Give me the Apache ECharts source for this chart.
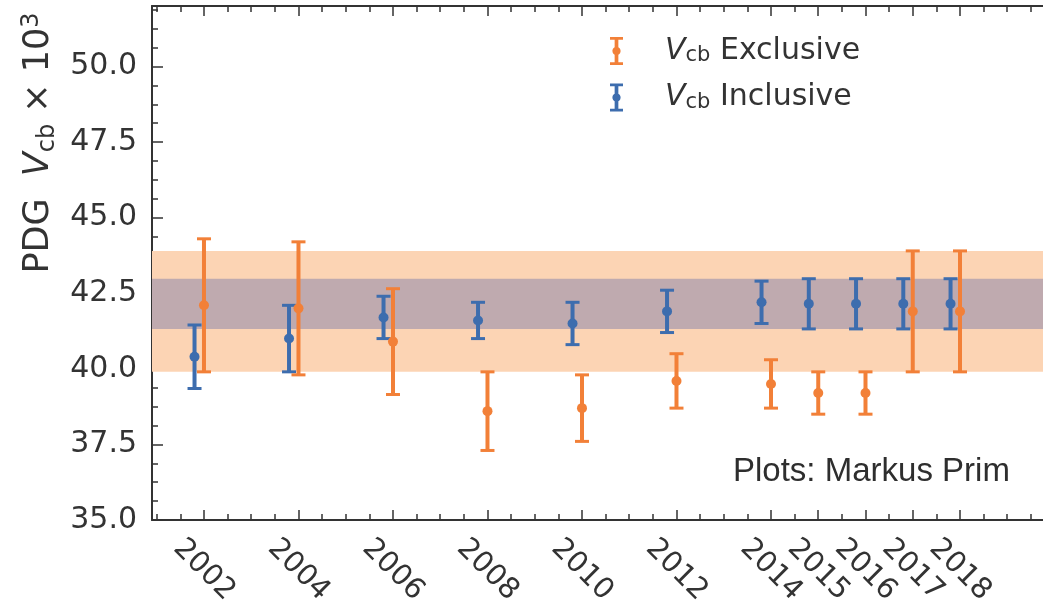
<!DOCTYPE html>
<html>
<head>
<meta charset="utf-8">
<script src="https://cdn.jsdelivr.net/npm/echarts@6/dist/echarts.min.js"></script>
<style>
  html, body { margin: 0; padding: 0; background: #fff; }
  #chart { width: 1043px; height: 607px; }
</style>
</head>
<body>
<div id="chart"></div>
<script>
// PDG averages of |Vcb| (x 10^3) by edition
const years    = ['2002', '2004', '2006', '2008', '2010', '2012', '2014', '2015', '2016', '2017', '2018'];
const yearPos  = [0, 1, 2, 3, 4, 5, 6, 6.5, 7, 7.5, 8];
const exclVal  = [42.1, 42.0, 40.9, 38.6, 38.7, 39.6, 39.5, 39.2, 39.2, 41.9, 41.9];
const exclErr  = [2.2, 2.2, 1.75, 1.3, 1.1, 0.9, 0.8, 0.7, 0.7, 2.0, 2.0];
const inclVal  = [40.4, 41.0, 41.7, 41.6, 41.5, 41.9, 42.2, 42.15, 42.15, 42.15, 42.15];
const inclErr  = [1.05, 1.1, 0.7, 0.6, 0.7, 0.7, 0.7, 0.83, 0.83, 0.83, 0.83];
const yTicks   = [35, 37.5, 40, 42.5, 45, 47.5, 50];
// current averages shown as horizontal bands
const exclBand = [41.9, 2.0];
const inclBand = [42.15, 0.83];

const INCL_SHIFT = -0.1;       // inclusive points sit just left of the year tick
const ORANGE = '#f28038';
const BLUE = '#3d6dae';
const TXT = '#333333';
const FONT = '"DejaVu Sans", sans-serif';

const X_MIN = -0.55, X_MAX = 9;
const Y_MIN = 35, Y_MAX = 52;

// minor tick positions
const xMinor = [];
for (let v = -0.5; v <= X_MAX + 1e-9; v += 0.25) xMinor.push(+v.toFixed(2));
const yMinor = [];
for (let v = Y_MIN; v <= Y_MAX + 1e-9; v += 0.625) yMinor.push(+v.toFixed(3));

function errorBar(color) {
  return function (params, api) {
    const x = api.value(0), y = api.value(1), e = api.value(2);
    const c = api.coord([x, y]);
    const hi = api.coord([x, y + e]);
    const lo = api.coord([x, y - e]);
    const cap = 7;
    return {
      type: 'group',
      children: [
        { type: 'line', shape: { x1: c[0], y1: hi[1], x2: c[0], y2: lo[1] }, style: { stroke: color, lineWidth: 4 } },
        { type: 'line', shape: { x1: c[0] - cap, y1: hi[1], x2: c[0] + cap, y2: hi[1] }, style: { stroke: color, lineWidth: 3 } },
        { type: 'line', shape: { x1: c[0] - cap, y1: lo[1], x2: c[0] + cap, y2: lo[1] }, style: { stroke: color, lineWidth: 3 } },
        { type: 'circle', shape: { cx: c[0], cy: c[1], r: 5 }, style: { fill: color } }
      ]
    };
  };
}

// error-bar glyph for the legend
const barIcon = 'path://M0,0H14V3H9V11A4.5,4.5 0 0 1 9,19V27H14V30H0V27H5V19A4.5,4.5 0 0 1 5,11V3H0Z';

const tickLine = { color: TXT, width: 1.5 };
const hidden = { show: false };

function xAxisBase(pos) {
  return {
    type: 'value', gridIndex: 0, position: pos, min: X_MIN, max: X_MAX,
    splitLine: hidden, axisLabel: hidden, axisTick: hidden,
    axisLine: { show: false, onZero: false }
  };
}

const chart = echarts.init(document.getElementById('chart'), null, { renderer: 'canvas' });

chart.setOption({
  backgroundColor: '#ffffff',
  animation: false,
  grid: {
    left: 152, right: -11.5, top: 6, bottom: 87,
    containLabel: false, outerBoundsMode: 'none'
  },
  xAxis: [
    Object.assign(xAxisBase('bottom'), {
      axisLine: { show: true, onZero: false, lineStyle: { color: TXT, width: 2 } },
      axisTick: { show: true, inside: true, length: 10, customValues: yearPos, lineStyle: tickLine },
      axisLabel: {
        show: true, customValues: yearPos,
        formatter: v => years[yearPos.indexOf(v)],
        rotate: -45, align: 'center', verticalAlign: 'middle', margin: 50,
        color: TXT, fontSize: 29, fontFamily: FONT
      }
    }),
    Object.assign(xAxisBase('bottom'), {
      axisTick: { show: true, inside: true, length: 6, customValues: xMinor, lineStyle: tickLine }
    }),
    Object.assign(xAxisBase('top'), {
      axisLine: { show: true, onZero: false, lineStyle: { color: TXT, width: 2 } },
      axisTick: { show: true, inside: true, length: 10, customValues: yearPos, lineStyle: tickLine }
    }),
    Object.assign(xAxisBase('top'), {
      axisTick: { show: true, inside: true, length: 6, customValues: xMinor, lineStyle: tickLine }
    })
  ],
  yAxis: [
    {
      type: 'value', min: Y_MIN, max: Y_MAX, position: 'left',
      splitLine: hidden,
      axisLine: { show: true, onZero: false, lineStyle: { color: TXT, width: 2 } },
      axisTick: { show: true, inside: true, length: 11, customValues: yTicks, lineStyle: tickLine },
      axisLabel: {
        show: true, customValues: yTicks, margin: 15,
        formatter: v => v.toFixed(1),
        color: TXT, fontSize: 30, fontFamily: FONT
      },
      name: '{n|PDG  }{v|V}{s|cb}{n| × 10}{p|3}',
      nameLocation: 'middle', nameRotate: 90, nameGap: 90,
      nameTextStyle: {
        padding: [0, 0, 0, 240],
        rich: {
          n: { fontSize: 35, fontFamily: FONT, color: TXT, lineHeight: 40 },
          v: { fontSize: 35, fontFamily: FONT, fontStyle: 'italic', color: TXT, lineHeight: 40 },
          s: { fontSize: 24, fontFamily: FONT, color: TXT, verticalAlign: 'bottom', lineHeight: 29 },
          p: { fontSize: 24, fontFamily: FONT, color: TXT, verticalAlign: 'top', lineHeight: 25 }
        }
      }
    },
    {
      type: 'value', min: Y_MIN, max: Y_MAX, position: 'left',
      splitLine: hidden, axisLabel: hidden,
      axisLine: { show: false, onZero: false },
      axisTick: { show: true, inside: true, length: 6, customValues: yMinor, lineStyle: tickLine }
    }
  ],
  legend: {
    orient: 'vertical', left: 605, top: 31,
    itemWidth: 13, itemHeight: 31, itemGap: 16,
    data: [
      { name: 'Vcb Exclusive', icon: barIcon },
      { name: 'Vcb Inclusive', icon: barIcon }
    ],
    formatter: name => '{v|V}{s|cb}{t| ' + name.slice(4) + '}',
    textStyle: {
      padding: [0, 0, 0, 37],
      rich: {
        v: { fontSize: 30, fontFamily: FONT, fontStyle: 'italic', color: TXT, lineHeight: 31 },
        s: { fontSize: 21, fontFamily: FONT, color: TXT, verticalAlign: 'bottom', lineHeight: 24 },
        t: { fontSize: 30, fontFamily: FONT, color: TXT, lineHeight: 31 }
      }
    }
  },
  graphic: [
    {
      type: 'text', left: 733, top: 455, z: 10,
      style: { text: 'Plots: Markus Prim', fill: '#2e2e2e', font: '33px "Liberation Sans", Arial, sans-serif' }
    }
  ],
  series: [
    {
      name: 'exclusive band', type: 'line', data: [], z: 1, silent: true,
      markArea: {
        silent: true,
        itemStyle: { color: '#fcd4b4' },
        data: [[{ yAxis: exclBand[0] - exclBand[1] }, { yAxis: exclBand[0] + exclBand[1] }]]
      }
    },
    {
      name: 'inclusive band', type: 'line', data: [], z: 2, silent: true,
      markArea: {
        silent: true,
        itemStyle: { color: '#bfaaaf' },
        data: [[{ yAxis: inclBand[0] - inclBand[1] }, { yAxis: inclBand[0] + inclBand[1] }]]
      }
    },
    {
      name: 'Vcb Inclusive', type: 'custom', z: 5,
      itemStyle: { color: BLUE },
      renderItem: errorBar(BLUE),
      encode: { x: 0, y: 1 },
      data: yearPos.map((p, i) => [p + INCL_SHIFT, inclVal[i], inclErr[i]])
    },
    {
      name: 'Vcb Exclusive', type: 'custom', z: 6,
      itemStyle: { color: ORANGE },
      renderItem: errorBar(ORANGE),
      encode: { x: 0, y: 1 },
      data: yearPos.map((p, i) => [p, exclVal[i], exclErr[i]])
    }
  ]
});
</script>
</body>
</html>
